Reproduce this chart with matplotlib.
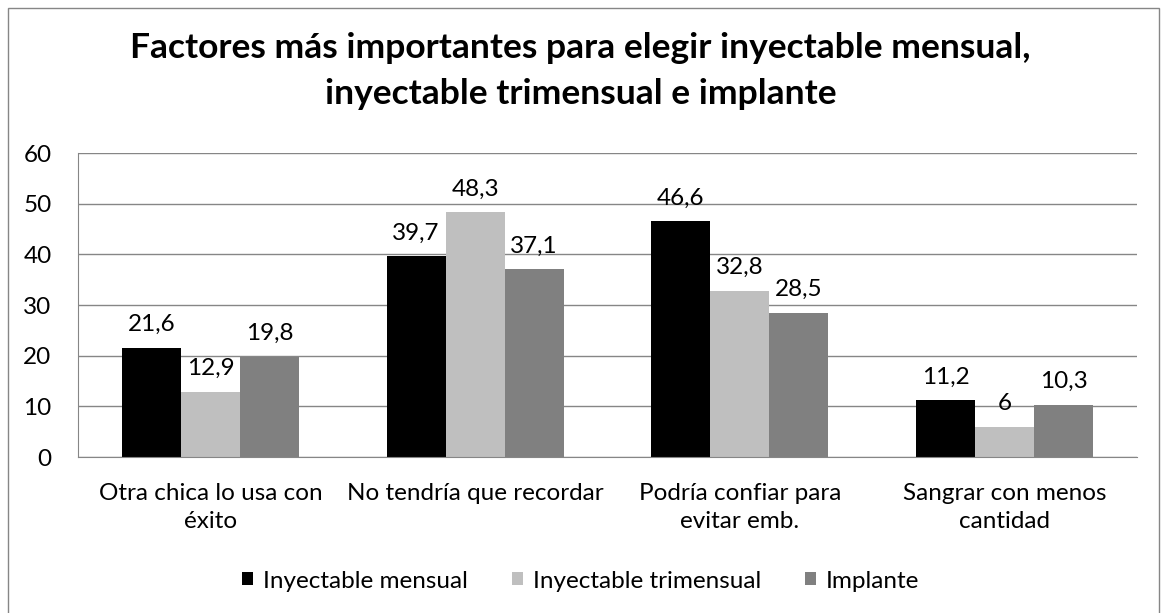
import matplotlib
matplotlib.use("Agg")
import matplotlib.pyplot as plt
import numpy as np
from matplotlib.patches import Rectangle

categories = ["Otra chica lo usa con\néxito", "No tendría que recordar",
              "Podría confiar para\nevitar emb.", "Sangrar con menos\ncantidad"]
series_names = ["Inyectable mensual", "Inyectable trimensual", "Implante"]
mensual = [21.6, 39.7, 46.6, 11.2]
trimensual = [12.9, 48.3, 32.8, 6]
implante = [19.8, 37.1, 28.5, 10.3]
colors = ["#000000", "#BFBFBF", "#808080"]
title = "Factores más importantes para elegir inyectable mensual,\ninyectable trimensual e implante"

plt.rcParams['font.family'] = ['Lato', 'DejaVu Sans']
FS = 17.5

fig = plt.figure(figsize=(11.61, 6.13), dpi=100)
ax = fig.add_axes([78/1161, 1-457/613, (1137-78)/1161, (457-153)/613])

x = np.arange(len(categories))
w = 0.223
def fmt(v):
    return ("%g" % v).replace(".", ",")
for i, (vals, c, name) in enumerate(zip([mensual, trimensual, implante], colors, series_names)):
    bars = ax.bar(x + (i-1)*w, vals, w, color=c, label=name, zorder=3)
    for b, v in zip(bars, vals):
        ax.annotate(fmt(v), (b.get_x()+b.get_width()/2, v), xytext=(0, 9),
                    textcoords="offset points", ha="center", va="bottom", fontsize=FS)

ax.set_xlim(-0.5, 3.5)
ax.set_ylim(0, 60)
ax.set_yticks(range(0, 61, 10))
ax.yaxis.grid(True, color="#868686", linewidth=1, zorder=0)
ax.set_xticks(x)
ax.set_xticklabels(categories, fontsize=FS, linespacing=1.4)
ax.tick_params(axis='x', length=0, pad=19)
ax.tick_params(axis='y', length=0, labelsize=FS, pad=19)
for s in ["top", "right"]:
    ax.spines[s].set_visible(False)
for s in ["left", "bottom"]:
    ax.spines[s].set_color("#868686")
    ax.spines[s].set_zorder(4)

fig.text(0.5, 1-71/613, title, ha="center", va="center", fontsize=25.5, fontweight="bold",
         linespacing=1.55)

leg = fig.legend(loc="center", bbox_to_anchor=(0.5, 1-581/613), ncol=3, frameon=False,
                 fontsize=FS, handlelength=0.46, handleheight=0.46, handletextpad=0.4,
                 columnspacing=1.8)

fig.patches.append(Rectangle((8/1161, -0.01), (1159-8)/1161, (613-8)/613 + 0.01, transform=fig.transFigure,
                             fill=False, edgecolor="#868686", linewidth=1))

fig.savefig("out.png", dpi=100)
